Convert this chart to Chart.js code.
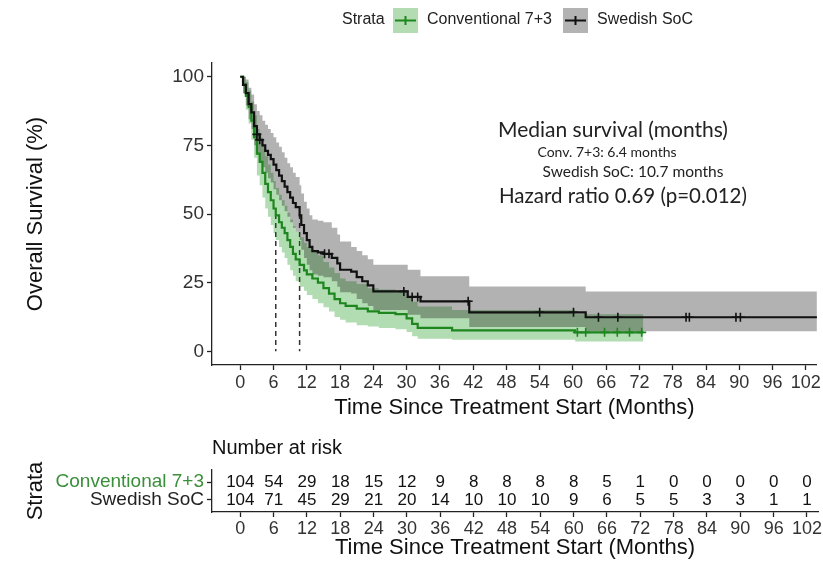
<!DOCTYPE html>
<html>
<head>
<meta charset="utf-8">
<script src="https://cdn.jsdelivr.net/npm/chart.js@4.4.1/dist/chart.umd.min.js"></script>
<style>
  body { margin: 0; background: #fff; }
  canvas { display: block; }
</style>
</head>
<body>
<canvas id="km" width="823" height="425" style="width:823px;height:425px"></canvas>
<canvas id="risk" width="823" height="140" style="width:823px;height:140px"></canvas>
<script>
// --- eixos / tabela de risco ---
const timeTicks = [0, 6, 12, 18, 24, 30, 36, 42, 48, 54, 60, 66, 72, 78, 84, 90, 96, 102];
const survTicks = [0, 25, 50, 75, 100];
const strataNames = ['Conventional 7+3', 'Swedish SoC'];
const riskConv = [104, 54, 29, 18, 15, 12, 9, 8, 8, 8, 8, 5, 1, 0, 0, 0, 0, 0];
const riskSwe = [104, 71, 45, 29, 21, 20, 14, 10, 10, 10, 9, 6, 5, 5, 3, 3, 1, 1];

// --- Conventional 7+3 (curva KM + IC 95%) ---
const convTime = [0, 0.5, 1, 1.5, 2, 2.5, 3, 3.5, 4, 4.5, 5, 5.5, 6, 6.4, 7, 7.5, 8, 8.5, 9, 9.5,
  10, 10.7, 11.5, 12, 13, 14, 15, 16, 17, 18, 19, 21, 23, 25, 28, 30, 31, 32, 38.2, 60.4, 72.7];
const convSurv = [100, 97, 93, 89, 84, 78, 72, 69, 65, 61, 58, 55, 52, 49.5, 47, 45, 43, 40.5, 38, 35.5,
  33.5, 31.5, 29.5, 28, 26.5, 25, 23, 21, 19, 17.5, 16.5, 15.5, 14.5, 14, 13.5, 12, 10, 8.5, 7.6, 6.9, 6.9];
const convLo = [100, 94, 88, 83, 77, 70.5, 64, 60.5, 56, 52, 49, 46, 43, 40.5, 38, 36, 34, 31.5, 29.5, 27.5,
  25.5, 23.5, 22, 20.5, 19, 17.5, 16, 14.5, 12.5, 11.5, 10.5, 9.5, 9, 8.5, 8, 7, 5.5, 4.6, 4.2, 3.6, 3.6];
const convHi = [100, 100, 98, 95, 91, 86, 81, 78, 75, 71, 68, 65, 62, 59.5, 57, 55, 53, 50.5, 48, 45.5,
  43.5, 41.5, 39.5, 38, 36.5, 35, 32.5, 30.5, 28.5, 26.5, 25.5, 24.5, 23, 22.5, 22, 20, 18, 16.3, 15, 13.5, 13.5];
const convCensT = [60.8, 62.3, 65.7, 68, 70.2, 72.4];
const convCensS = [6.9, 6.9, 6.9, 6.9, 6.9, 6.9];

// --- Swedish SoC ---
const sweTime = [0, 0.5, 1, 1.5, 2, 2.5, 3, 3.5, 4, 4.5, 5, 5.5, 6, 6.5, 7, 7.5, 8, 8.5, 9, 9.5,
  10, 10.7, 11, 11.5, 12, 12.5, 13, 14, 15, 16.5, 17.5, 18, 20, 21, 22, 23, 24, 30.2, 32.5, 41.3, 62.3, 104];
const sweSurv = [100, 97, 94, 90, 87, 82, 79, 77, 75, 73, 71.5, 70, 68, 66, 64, 62, 60, 58, 56, 54,
  52.5, 49.5, 46, 43, 40.5, 38, 36.5, 36, 35.5, 34, 32, 29.7, 29, 27, 25.5, 24, 21.8, 19.8, 18.2, 14.2, 12.4, 12.4];
const sweLo = [100, 94, 89.5, 84.5, 81, 75, 71.5, 69, 67, 65, 63, 61.5, 59, 57, 55, 53, 51, 49, 47, 45,
  43.5, 40.5, 37, 34, 31.5, 29.5, 28, 27.5, 27, 25.5, 23.5, 21.5, 21, 19, 17.5, 16.5, 15, 13.3, 12, 8.8, 7.3, 7.3];
const sweHi = [100, 100, 99, 96, 93.5, 90, 87.5, 86, 84, 82.5, 81, 79.5, 78, 76, 74.5, 72.5, 70.5, 68.5, 67, 65,
  63.5, 60.5, 57.5, 54.5, 52, 49.5, 48, 47.5, 47, 45, 42.5, 40, 38, 36.5, 35, 33.5, 31.5, 29.7, 27.3, 23.6, 21.8, 21.8];
const sweCensT = [3.0, 3.5, 15.2, 16.0, 29.5, 31.0, 32.0, 41.1, 54.0, 60.1, 64.6, 68.1, 80.4, 81.0, 89.4, 90.2];
const sweCensS = [79, 77, 35.5, 35.5, 21.8, 19.8, 19.8, 18.2, 14.2, 14.2, 12.4, 12.4, 12.4, 12.4, 12.4, 12.4];

// medianas (meses)
const medianTimes = [6.4, 10.7];

const GREEN = '#1e861e';
const BLACK = '#111111';
const FONT = '"Liberation Sans", Arial, sans-serif';
const NOTE_FONT = 'Lato, "Open Sans", sans-serif';

function pts(xs, ys) {
    return xs.map((x, i) => ({ x: x, y: ys[i] }));
}

function stepLine(data, color, order) {
    return { data: data, borderColor: color, borderWidth: 2.2, pointRadius: 0, stepped: true, fill: false, order: order };
}

function band(data, color, fill, order) {
    return { data: data, borderWidth: 0, pointRadius: 0, stepped: true, fill: fill, backgroundColor: color, order: order };
}

function censors(data, color, order) {
    return { data: data, showLine: false, pointStyle: 'cross', pointRadius: 4.5, pointBorderWidth: 1.6,
        pointBorderColor: color, borderColor: color, order: order };
}

// legenda + texto da mediana
const kmDecor = {
    id: 'kmDecor',
    afterDraw(chart) {
        const ctx = chart.ctx;
        ctx.save();
        // legenda
        ctx.font = '16px ' + FONT;
        ctx.fillStyle = '#222';
        ctx.textBaseline = 'middle';
        ctx.textAlign = 'left';
        ctx.fillText('Strata', 342, 20);
        const items = [
            { x: 393, fill: '#b3dcb3', line: GREEN, text: strataNames[0], tx: 427 },
            { x: 563, fill: '#b3b3b3', line: BLACK, text: strataNames[1], tx: 597 }
        ];
        items.forEach(it => {
            ctx.fillStyle = it.fill;
            ctx.fillRect(it.x, 8, 25, 25);
            ctx.strokeStyle = it.line;
            ctx.lineWidth = 2;
            ctx.beginPath();
            ctx.moveTo(it.x + 2, 20.5); ctx.lineTo(it.x + 23, 20.5);
            ctx.moveTo(it.x + 12.5, 16); ctx.lineTo(it.x + 12.5, 25);
            ctx.stroke();
            ctx.fillStyle = '#222';
            ctx.fillText(it.text, it.tx, 20);
        });

        // anotações
        ctx.textAlign = 'center';
        ctx.fillStyle = '#222';
        ctx.font = '21px ' + NOTE_FONT;
        ctx.fillText('Median survival (months)', 613, 130);
        ctx.font = '14px ' + NOTE_FONT;
        ctx.fillText('Conv. 7+3: 6.4 months', 607, 152);
        ctx.font = '15.5px ' + NOTE_FONT;
        ctx.fillText('Swedish SoC: 10.7 months', 633, 172);
        ctx.font = '20.5px ' + NOTE_FONT;
        ctx.fillText('Hazard ratio 0.69 (p=0.012)', 623, 196);
        ctx.restore();
    }
};

const axisCommon = {
    border: { display: true, color: '#222', width: 1.3 },
    grid: { drawOnChartArea: false, drawTicks: true, tickLength: 5, tickWidth: 1.3, color: '#222' }
};

new Chart(document.getElementById('km'), {
    type: 'line',
    data: {
        datasets: [
            censors(pts(sweCensT, sweCensS), BLACK, 0),
            censors(pts(convCensT, convCensS), GREEN, 1),
            stepLine(pts(sweTime, sweSurv), BLACK, 2),
            stepLine(pts(convTime, convSurv), GREEN, 3),
            band(pts(sweTime, sweHi), 'rgba(0,0,0,0.3)', '+1', 4),
            band(pts(sweTime, sweLo), 'transparent', false, 5),
            band(pts(convTime, convHi), 'rgba(0,139,0,0.3)', '+1', 6),
            band(pts(convTime, convLo), 'transparent', false, 7),
            ...medianTimes.map((t, i) => ({
                data: [{ x: t, y: 50 }, { x: t, y: 0 }],
                borderColor: '#333', borderWidth: 1.5, borderDash: [5, 4], pointRadius: 0, fill: false, order: 8 + i
            }))
        ]
    },
    options: {
        responsive: false,
        animation: false,
        events: [],
        layout: { padding: { top: 63, left: 0, right: 0, bottom: 0 } },
        plugins: { legend: { display: false }, tooltip: { enabled: false } },
        scales: {
            x: {
                type: 'linear', min: -5.1, max: 104,
                ...axisCommon,
                afterFit: s => { s.height = 60; },
                afterBuildTicks: s => { s.ticks = timeTicks.map(v => ({ value: v })); },
                ticks: { font: { family: FONT, size: 18 }, color: '#333', padding: 2, maxRotation: 0, autoSkip: false },
                title: { display: true, text: 'Time Since Treatment Start (Months)', color: '#111',
                    font: { family: FONT, size: 22 }, padding: { top: 0, bottom: 4 } }
            },
            y: {
                type: 'linear', min: -5, max: 105,
                ...axisCommon,
                afterFit: s => { s.width = 212; },
                afterBuildTicks: s => { s.ticks = survTicks.map(v => ({ value: v })); },
                ticks: { font: { family: FONT, size: 19 }, color: '#333', padding: 3 },
                title: { display: true, text: 'Overall Survival (%)', color: '#111',
                    font: { family: FONT, size: 22 }, padding: { top: 23, bottom: 0 } }
            }
        }
    },
    plugins: [kmDecor]
});

// --- tabela "Number at risk" ---
const riskRows = [riskConv, riskSwe];

const riskText = {
    id: 'riskText',
    afterDatasetsDraw(chart) {
        const ctx = chart.ctx;
        ctx.save();
        ctx.font = '17px ' + FONT;
        ctx.fillStyle = '#111';
        ctx.textAlign = 'center';
        ctx.textBaseline = 'middle';
        riskRows.forEach((row, d) => {
            chart.getDatasetMeta(d).data.forEach((p, i) => ctx.fillText(String(row[i]), p.x, p.y));
        });
        ctx.font = '20px ' + FONT;
        ctx.textAlign = 'left';
        ctx.fillText('Number at risk', chart.chartArea.left, 23);
        ctx.restore();
    }
};

new Chart(document.getElementById('risk'), {
    type: 'line',
    data: {
        datasets: [
            { data: pts(timeTicks, timeTicks.map(() => 2)), showLine: false, pointRadius: 0 },
            { data: pts(timeTicks, timeTicks.map(() => 1)), showLine: false, pointRadius: 0 }
        ]
    },
    options: {
        responsive: false,
        animation: false,
        events: [],
        layout: { padding: { top: 45, left: 0, right: 0, bottom: 0 } },
        plugins: { legend: { display: false }, tooltip: { enabled: false } },
        scales: {
            x: {
                type: 'linear', min: -5.1, max: 104,
                ...axisCommon,
                afterFit: s => { s.height = 53; },
                afterBuildTicks: s => { s.ticks = timeTicks.map(v => ({ value: v })); },
                ticks: { font: { family: FONT, size: 18 }, color: '#333', padding: 1, maxRotation: 0, autoSkip: false },
                title: { display: true, text: 'Time Since Treatment Start (Months)', color: '#111',
                    font: { family: FONT, size: 22 }, padding: { top: 0, bottom: 4 } }
            },
            y: {
                type: 'linear', min: 0.33, max: 2.67,
                ...axisCommon,
                afterFit: s => { s.width = 212; },
                afterBuildTicks: s => { s.ticks = [{ value: 2 }, { value: 1 }]; },
                ticks: {
                    font: { family: FONT, size: 19 }, padding: 3,
                    color: c => (c.tick && c.tick.value === 2) ? '#3a8f3a' : '#222',
                    callback: v => strataNames[2 - v]
                },
                title: { display: true, text: 'Strata', color: '#111',
                    font: { family: FONT, size: 22 }, padding: { top: 23, bottom: 0 } }
            }
        }
    },
    plugins: [riskText]
});
</script>
</body>
</html>
